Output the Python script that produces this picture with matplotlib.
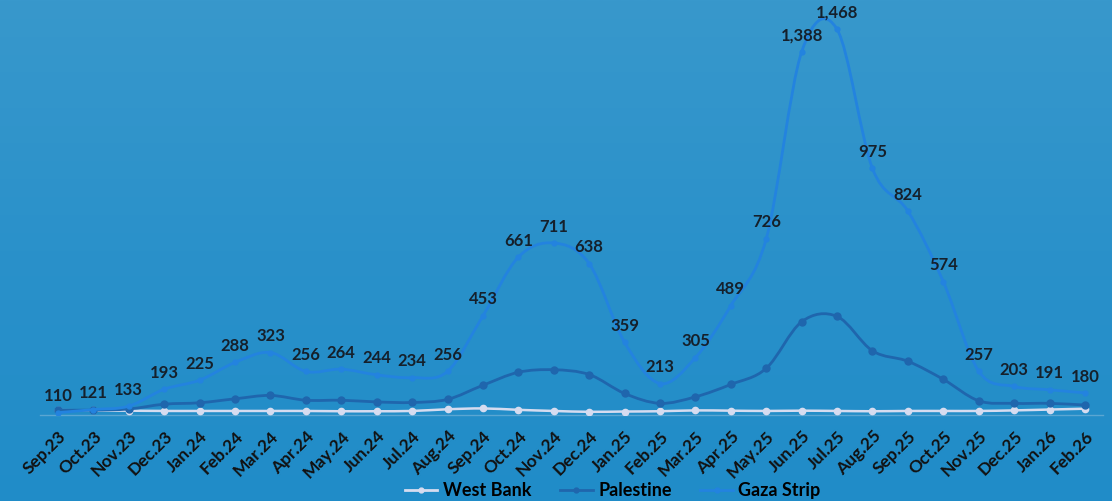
import numpy as np
import matplotlib.pyplot as plt
from matplotlib.path import Path
from matplotlib.patches import PathPatch
from matplotlib.lines import Line2D
from matplotlib.colors import LinearSegmentedColormap

months = ["Sep.23", "Oct.23", "Nov.23", "Dec.23", "Jan.24", "Feb.24", "Mar.24", "Apr.24",
          "May.24", "Jun.24", "Jul.24", "Aug.24", "Sep.24", "Oct.24", "Nov.24", "Dec.24",
          "Jan.25", "Feb.25", "Mar.25", "Apr.25", "May.25", "Jun.25", "Jul.25", "Aug.25",
          "Sep.25", "Oct.25", "Nov.25", "Dec.25", "Jan.26", "Feb.26"]

gaza = [110, 121, 133, 193, 225, 288, 323, 256, 264, 244, 234, 256, 453, 661, 711, 638,
        359, 213, 305, 489, 726, 1388, 1468, 975, 824, 574, 257, 203, 191, 180]
palestine = [119, 119, 123, 140, 145, 159, 171, 154, 154, 148, 146, 157, 207, 253, 262, 245,
             178, 143, 166, 210, 267, 432, 451, 329, 292, 228, 152, 143, 143, 137]
west_bank = [119, 118, 117, 116, 116, 116, 116, 116, 115, 115, 116, 122, 125, 120, 116, 113,
             114, 115, 118, 117, 116, 117, 116, 115, 116, 116, 116, 118, 121, 124]

C_WB = "#d6dcf0"
C_PAL = "#1f66ad"
C_GAZA = "#2383df"


def smooth_path(xs, ys):
    # excel-like smoothed line: catmull-rom segments as cubic beziers
    pts = np.column_stack([xs, ys]).astype(float)
    n = len(pts)
    verts = [pts[0]]
    codes = [Path.MOVETO]
    for i in range(n - 1):
        p0 = pts[i - 1] if i > 0 else pts[i]
        p1 = pts[i]
        p2 = pts[i + 1]
        p3 = pts[i + 2] if i + 2 < n else pts[i + 1]
        verts += [p1 + (p2 - p0) / 6.0, p2 - (p3 - p1) / 6.0, p2]
        codes += [Path.CURVE4] * 3
    return Path(verts, codes)


fig = plt.figure(figsize=(11.12, 5.01), dpi=100)

# background gradient
bg = fig.add_axes([0, 0, 1, 1], zorder=-10)
grad = np.linspace(0, 1, 256).reshape(-1, 1)
cmap = LinearSegmentedColormap.from_list("bg", ["#3898cc", "#2a91ca", "#208cc8"])
bg.imshow(grad, aspect="auto", cmap=cmap, extent=[0, 1, 0, 1])
bg.axis("off")

ax = fig.add_axes([0.0362, 0.1707, 0.9554, 0.7973])
ax.set_facecolor("none")
x = np.arange(len(months))

for vals, col, lw, ms, z in [(west_bank, C_WB, 1.8, 4.5, 3), (palestine, C_PAL, 2.0, 5, 4),
                             (gaza, C_GAZA, 2.0, 3.5, 5)]:
    ax.add_patch(PathPatch(smooth_path(x, vals), facecolor="none", edgecolor=col, lw=lw,
                           zorder=z, capstyle="round"))
    ax.plot(x, vals, linestyle="none", marker="o", markersize=ms, color=col, zorder=z)

for xi, v in zip(x, gaza):
    ax.annotate(f"{v:,}", (xi, v), xytext=(0, 6), textcoords="offset points",
                ha="center", va="bottom", fontsize=12, fontweight="bold",
                color="#15202b", family="Lato", zorder=6)

ax.set_xlim(-0.5, 29.5)
ax.set_ylim(100, 1515)
ax.set_xticks(x)
ax.set_xticklabels(months, rotation=45, ha="right", va="top", rotation_mode="anchor",
                   fontsize=12.5, fontweight="bold", family="Lato", color="#111111")
ax.tick_params(axis="x", length=0, pad=9)
ax.set_yticks([])
for s in ["top", "right", "left"]:
    ax.spines[s].set_visible(False)
ax.spines["bottom"].set_color("#5aa6d2")
ax.spines["bottom"].set_linewidth(1)

handles = [Line2D([], [], color=c, lw=2, marker="o", markersize=3.5) for c in (C_WB, C_PAL, C_GAZA)]
fig.legend(handles, ["West Bank", "Palestine", "Gaza Strip"], loc="center",
           bbox_to_anchor=(0.551, 0.02), ncol=3, frameon=False, handlelength=1.8,
           handletextpad=0.3, columnspacing=1.6,
           prop={"family": "Lato", "weight": "bold", "size": 13})

fig.savefig("out.png", dpi=100)
